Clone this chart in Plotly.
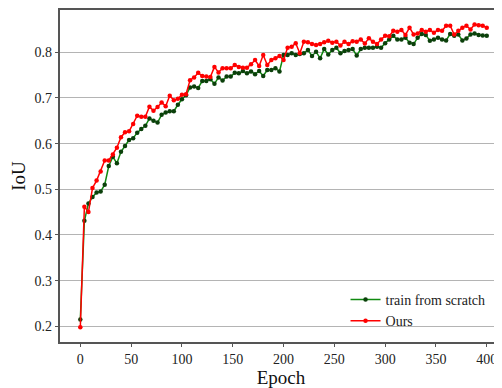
import plotly.graph_objects as go

epochs = list(range(0, 401, 4))

scratch = [0.215, 0.431, 0.469, 0.483, 0.493, 0.495, 0.510, 0.551, 0.571, 0.557,
           0.582, 0.595, 0.608, 0.612, 0.624, 0.632, 0.639, 0.655, 0.650, 0.646,
           0.663, 0.668, 0.671, 0.671, 0.685, 0.697, 0.706, 0.723, 0.725, 0.722,
           0.737, 0.737, 0.741, 0.731, 0.745, 0.738, 0.747, 0.747, 0.755, 0.754,
           0.759, 0.754, 0.758, 0.752, 0.759, 0.748, 0.761, 0.761, 0.765, 0.758,
           0.794, 0.794, 0.798, 0.794, 0.796, 0.798, 0.805, 0.792, 0.801, 0.787,
           0.807, 0.795, 0.805, 0.810, 0.798, 0.803, 0.805, 0.807, 0.793, 0.807,
           0.810, 0.810, 0.810, 0.812, 0.810, 0.820, 0.828, 0.836, 0.828, 0.828,
           0.832, 0.821, 0.818, 0.832, 0.840, 0.838, 0.825, 0.828, 0.832, 0.828,
           0.826, 0.840, 0.836, 0.839, 0.826, 0.830, 0.839, 0.841, 0.838, 0.837,
           0.836]

ours = [0.198, 0.462, 0.450, 0.503, 0.519, 0.539, 0.563, 0.563, 0.576, 0.591,
        0.614, 0.625, 0.627, 0.643, 0.661, 0.659, 0.659, 0.681, 0.672, 0.680,
        0.690, 0.682, 0.705, 0.695, 0.698, 0.707, 0.708, 0.739, 0.745, 0.755,
        0.748, 0.747, 0.746, 0.768, 0.756, 0.765, 0.765, 0.765, 0.772, 0.768,
        0.766, 0.766, 0.774, 0.783, 0.770, 0.794, 0.772, 0.783, 0.787, 0.792,
        0.783, 0.810, 0.812, 0.820, 0.798, 0.823, 0.822, 0.818, 0.816, 0.818,
        0.822, 0.825, 0.821, 0.823, 0.815, 0.823, 0.818, 0.824, 0.823, 0.828,
        0.819, 0.831, 0.823, 0.818, 0.828, 0.836, 0.835, 0.847, 0.845, 0.849,
        0.838, 0.854, 0.839, 0.841, 0.849, 0.845, 0.849, 0.843, 0.849, 0.847,
        0.858, 0.858, 0.839, 0.847, 0.854, 0.858, 0.850, 0.861, 0.859, 0.858,
        0.854]

x_ticks = [0, 50, 100, 150, 200, 250, 300, 350, 400]
y_ticks = [0.2, 0.3, 0.4, 0.5, 0.6, 0.7, 0.8]

serif = "Liberation Serif, Times New Roman, serif"

fig = go.Figure()
fig.add_trace(go.Scatter(
    x=epochs, y=scratch, mode="lines+markers", name="train from scratch",
    line=dict(color="#108a10", width=1.5),
    marker=dict(color="#0b400b", size=4.5),
))
fig.add_trace(go.Scatter(
    x=epochs, y=ours, mode="lines+markers", name="Ours",
    line=dict(color="#ff0000", width=1.5),
    marker=dict(color="#ff0000", size=4.5),
))

# page body has an 8px default margin, so the figure is sized to fit the window
fig.update_layout(
    width=494, height=380,
    margin=dict(l=52, r=0, t=2, b=46),
    paper_bgcolor="white", plot_bgcolor="white",
    font=dict(family=serif, size=13, color="#222"),
    showlegend=True,
    legend=dict(x=0.646, y=0.175, xanchor="left", yanchor="top",
                bgcolor="rgba(0,0,0,0)", font=dict(family=serif, size=14)),
    xaxis=dict(
        range=[-20, 415], tickmode="array", tickvals=x_ticks,
        showgrid=False, zeroline=False, automargin=False,
        showline=True, mirror=True, linecolor="#555", linewidth=1.5,
        ticks="outside", ticklen=3.5, tickcolor="#555",
        tickfont=dict(family=serif, size=14, color="#222"),
        title=dict(text="Epoch", font=dict(family=serif, size=19, color="#111"), standoff=4),
    ),
    yaxis=dict(
        range=[0.1656, 0.8926], tickmode="array", tickvals=y_ticks,
        tickformat=".1f", automargin=False,
        showgrid=True, gridcolor="#b4b4b4", gridwidth=1, zeroline=False,
        showline=True, mirror=False, linecolor="#555", linewidth=1.5,
        ticks="outside", ticklen=3.5, tickcolor="#555",
        tickfont=dict(family=serif, size=14, color="#222"),
        title=dict(text="IoU", font=dict(family=serif, size=19, color="#111"), standoff=7),
    ),
)

fig.write_html("out.html")
